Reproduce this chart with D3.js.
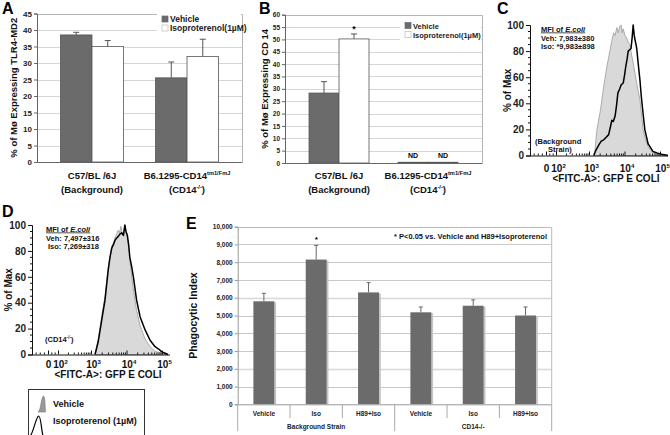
<!DOCTYPE html>
<html><head><meta charset="utf-8">
<script src="https://cdn.jsdelivr.net/npm/d3@7"></script>
<style>
body{margin:0;background:#fff}
svg{display:block;font-family:"Liberation Sans",Arial,sans-serif;font-weight:bold}
</style></head><body>
<svg id="c" width="670" height="435"></svg>
<script>
// ---------- DATA ----------
const abCats = ["background", "cd14ko"];
const seriesNames = ["Vehicle", "Isoproterenol(1µM)"];
const aVehicle = [38.5, 25.5];
const aVehicleErr = [0.8, 4.8];
const aIso = [35.0, 32.0];
const aIsoErr = [1.8, 5.2];
const aTicks = [0, 5, 10, 15, 20, 25, 30, 35, 40, 45];
const bVehicle = [28.3, 0.3];
const bVehicleErr = [4.6, 0];
const bIso = [50.2, 0.3];
const bIsoErr = [2.0, 0];
const bTicks = [0, 5, 10, 15, 20, 25, 30, 35, 40, 45, 50, 55, 60];
const bStars = ["*", ""];
const bNotDetected = ["ND", "ND"];
const catLabelsAB = [
  [[{t: "C57/BL /6J"}], [{t: "(Background)"}]],
  [[{t: "B6.1295-CD14"}, {t: "tm1/FmJ", sup: true}], [{t: "(CD14"}, {t: "-/-", sup: true}, {t: ")"}]]
];

// flow histograms: x in log10 units, y in % of max
const flowTickVals = [1, 2, 3, 4, 5];
const flowTickBase = ["0", "10", "10", "10", "10"];
const flowTickExp = ["", "2", "3", "4", "5"];
const flowYTicks = [0, 20, 40, 60, 80, 100];
const cVehX = [3.12, 3.15, 3.21, 3.31, 3.40, 3.49, 3.58, 3.63, 3.68, 3.72, 3.77, 3.81, 3.85, 3.89, 3.92, 3.95, 4.00, 4.05, 4.10, 4.14, 4.18, 4.23, 4.33, 4.42, 4.51, 4.58, 4.65, 4.75, 4.83, 5.00, 5.19, 5.22];
const cVehY = [0, 3, 20, 35, 53, 68, 81, 88, 94, 92, 98, 94, 99, 100, 94, 97, 92, 90, 86, 85, 78, 71, 55.5, 42.7, 19.6, 12, 6.8, 3, 1.7, 1, 0.5, 0];
const cIsoX = [3.12, 3.18, 3.26, 3.33, 3.40, 3.47, 3.54, 3.59, 3.63, 3.67, 3.72, 3.76, 3.80, 3.85, 3.89, 3.95, 3.99, 4.02, 4.06, 4.09, 4.13, 4.17, 4.20, 4.23, 4.26, 4.28, 4.31, 4.33, 4.37, 4.42, 4.46, 4.51, 4.56, 4.65, 4.72, 4.79, 4.90, 5.02, 5.22];
const cIsoY = [0, 4, 8, 11, 12, 14, 16, 22, 27, 26, 30, 38, 48, 51, 54, 55.5, 62, 68, 74, 80, 81, 82, 90, 100, 92, 89, 85, 82, 71, 58, 45, 32, 19.6, 9, 6, 3, 2, 1, 0];
const dVehX = [3.10, 3.19, 3.29, 3.38, 3.47, 3.52, 3.57, 3.62, 3.66, 3.71, 3.75, 3.79, 3.83, 3.87, 3.90, 3.94, 3.97, 4.00, 4.03, 4.10, 4.18, 4.27, 4.37, 4.51, 4.65, 4.79, 4.98, 5.16];
const dVehY = [0, 12, 30, 45, 67, 75, 84, 86, 90, 93, 96, 94, 99, 92, 95, 100, 96, 92, 86, 68, 50, 34, 22, 12, 6, 2.5, 1, 0];
const dIsoX = [3.10, 3.19, 3.29, 3.38, 3.47, 3.52, 3.57, 3.62, 3.66, 3.71, 3.75, 3.80, 3.85, 3.90, 3.94, 3.97, 4.01, 4.05, 4.08, 4.13, 4.18, 4.27, 4.37, 4.44, 4.51, 4.65, 4.79, 4.90, 4.98, 5.08, 5.16];
const dIsoY = [0, 10, 27, 42, 65, 75, 82, 85, 88, 90, 91, 93, 94, 92, 100, 95, 92, 84, 75, 68, 60, 42, 29, 24, 19, 11, 6, 4, 2, 1, 0];

// panel E
const eCats = ["Vehicle", "Iso", "H89+Iso", "Vehicle", "Iso", "H89+Iso"];
const eGroups = ["Background Strain", "CD14-/-"];
const eValues = [5800, 8150, 6300, 5180, 5550, 5000];
const eErrors = [450, 800, 550, 300, 330, 480];
const eStars = ["", "*", "", "", "", ""];
const eTicks = [0, 1000, 2000, 3000, 4000, 5000, 6000, 7000, 8000, 9000, 10000];

// ---------- DRAWING ----------
const svg = d3.select("#c");
const fmtE = d3.format(",");
const DARK = "#6b6b6b";

function styleAxis(a, fs, col) {
  a.attr("font-family", null).attr("font-size", null);
  a.select(".domain").attr("stroke", col || "#666");
  a.selectAll(".tick line").attr("stroke", col || "#666");
  a.selectAll(".tick text").attr("font-size", fs).attr("font-weight", "bold").attr("fill", "#222");
}

function richText(g, x, y, segs, fs, anchor) {
  const t = g.append("text").attr("x", x).attr("y", y).attr("font-size", fs).attr("text-anchor", anchor || "middle").attr("fill", "#111");
  let prevSup = false;
  segs.forEach(s => {
    const ts = t.append("tspan").text(s.t);
    if (s.sup) ts.attr("font-size", fs * 0.6).attr("dy", -fs * 0.4);
    else if (prevSup) ts.attr("dy", fs * 0.4);
    prevSup = !!s.sup;
  });
  return t;
}

function barPanel(p) {
  const g = svg.append("g");
  const x = d3.scaleBand().domain(abCats).range([p.left, p.right]).paddingInner(p.pi).paddingOuter(p.po);
  const s = d3.scaleBand().domain([0, 1]).range([0, x.bandwidth()]);
  const y = d3.scaleLinear().domain([0, p.ticks[p.ticks.length - 1]]).range([p.bottom, p.top]);
  g.append("g").selectAll("line").data(p.ticks.slice(1, -1)).join("line")
    .attr("x1", p.left).attr("x2", p.right)
    .attr("y1", d => Math.round(y(d)) + .5).attr("y2", d => Math.round(y(d)) + .5)
    .attr("stroke", "#d6d6d6");
  g.append("path")
    .attr("d", `M${p.left},${Math.round(p.top) + .5}H${p.right + .5}V${p.bottom}`)
    .attr("fill", "none").attr("stroke", "#b5b5b5");
  // legend background + legend
  g.append("rect").attr("x", p.leg[0] - 5).attr("y", p.leg[1] - 8).attr("width", p.right - p.leg[0] + 4).attr("height", 22).attr("fill", "#fff");
  const fills = [DARK, "#fff"];
  seriesNames.forEach((n, i) => {
    g.append("rect").attr("x", p.leg[0]).attr("y", p.leg[1] - 6 + i * 9).attr("width", 6).attr("height", 6)
      .attr("fill", fills[i]).attr("stroke", i ? "#bbb" : DARK).attr("stroke-width", 0.7);
    g.append("text").attr("x", p.leg[0] + 8).attr("y", p.leg[1] + i * 9).attr("font-size", p.legFs).attr("fill", "#222").text(n);
  });
  const series = [{v: p.veh, e: p.vehErr}, {v: p.iso, e: p.isoErr}];
  series.forEach((sr, si) => {
    const bg = g.append("g");
    bg.selectAll("rect").data(abCats).join("rect")
      .attr("x", c => x(c) + s(si)).attr("width", s.bandwidth())
      .attr("y", (c, i) => y(sr.v[i])).attr("height", (c, i) => p.bottom - y(sr.v[i]))
      .attr("fill", fills[si]).attr("stroke", "#555").attr("stroke-width", 0.8);
    const eb = g.append("g").attr("stroke", "#555").attr("stroke-width", 1);
    abCats.forEach((c, i) => {
      if (!sr.e[i]) return;
      const cx = x(c) + s(si) + s.bandwidth() / 2;
      eb.append("line").attr("x1", cx).attr("x2", cx).attr("y1", y(sr.v[i])).attr("y2", y(sr.v[i] + sr.e[i]));
      eb.append("line").attr("x1", cx - 3).attr("x2", cx + 3).attr("y1", y(sr.v[i] + sr.e[i])).attr("y2", y(sr.v[i] + sr.e[i]));
    });
    if (p.stars) abCats.forEach((c, i) => {
      if (si === 1 && p.stars[i]) g.append("text").attr("x", x(c) + s(si) + s.bandwidth() / 2).attr("y", y(sr.v[i] + sr.e[i]) - 2)
        .attr("text-anchor", "middle").attr("font-size", 9).text(p.stars[i]);
    });
    if (p.nd) abCats.forEach((c, i) => {
      if (i === 1) g.append("text").attr("x", x(c) + s(si) + s.bandwidth() / 2).attr("y", y(sr.v[i]) - 4)
        .attr("text-anchor", "middle").attr("font-size", 7).text(p.nd[si]);
    });
  });
  g.append("g").attr("transform", `translate(${p.left},0)`)
    .call(d3.axisLeft(y).tickValues(p.ticks).tickSize(3).tickPadding(2))
    .call(a => styleAxis(a, p.tickFs));
  g.append("line").attr("x1", p.left).attr("x2", p.right + .5).attr("y1", p.bottom + .5).attr("y2", p.bottom + .5).attr("stroke", "#666");
  abCats.forEach((c, i) => {
    const cx = x(c) + x.bandwidth() / 2;
    richText(g, cx, p.catY[0], catLabelsAB[i][0], p.catFs);
    richText(g, cx, p.catY[1], catLabelsAB[i][1], p.catFs);
  });
  g.append("text").attr("transform", `translate(${p.ylabX},${(p.top + p.bottom) / 2}) rotate(-90)`)
    .attr("text-anchor", "middle").attr("font-size", p.ylabFs).attr("fill", "#111").text(p.ylab);
  g.append("text").attr("x", p.letter[0]).attr("y", p.letter[1]).attr("font-size", 16).text(p.letter[2]);
}

barPanel({left: 37, right: 242, top: 13.5, bottom: 162, pi: 0.337, po: 0.247, ticks: aTicks,
  veh: aVehicle, vehErr: aVehicleErr, iso: aIso, isoErr: aIsoErr, leg: [162, 22], legFs: 8.5,
  tickFs: 8, catFs: 9.5, catY: [179, 193], ylab: "% of Mø Expressing TLR4-MD2", ylabX: 17, ylabFs: 9.5,
  letter: [2, 14, "A"]});
barPanel({left: 285, right: 482, top: 14.7, bottom: 163, pi: 0.326, po: 0.27, ticks: bTicks,
  veh: bVehicle, vehErr: bVehicleErr, iso: bIso, isoErr: bIsoErr, leg: [405, 28.5], legFs: 7.5,
  tickFs: 6.5, catFs: 9.5, catY: [179, 193], ylab: "% of Mø Expressing CD 14", ylabX: 268, ylabFs: 9.5,
  letter: [259, 14, "B"], stars: bStars, nd: bNotDetected});

// ---------- flow panels ----------
const flowDomain = [0, 1, 2, 3, 4, 5, 5.22];
const flowOffsets = [0, 16.5, 26.5, 59.5, 95, 130.5, 138];
function flowPanel(p) {
  const g = svg.append("g");
  const x = d3.scaleLinear().domain(flowDomain).range(flowOffsets.map(o => p.left + o));
  const y = d3.scaleLinear().domain([0, 100]).range([p.bottom, p.top]);
  const veh = d3.zip(p.vehX, p.vehY), iso = d3.zip(p.isoX, p.isoY);
  g.append("path").datum(veh)
    .attr("d", d3.area().x(d => x(d[0])).y0(p.bottom).y1(d => y(d[1])))
    .attr("fill", "#d9d9d9").attr("stroke", "#9a9a9a").attr("stroke-width", 0.8);
  g.append("path").datum(iso)
    .attr("d", d3.line().x(d => x(d[0])).y(d => y(d[1])))
    .attr("fill", "none").attr("stroke", "#000").attr("stroke-width", 1.5).attr("stroke-linejoin", "round");
  g.append("g").attr("transform", `translate(${p.left},0)`)
    .call(d3.axisLeft(y).tickValues(flowYTicks).tickSize(4).tickPadding(2).tickFormat(d3.format("d")))
    .call(a => styleAxis(a, 10, "#111"));
  g.append("g").selectAll("line").data(d3.range(0, 101, 5).filter(v => v % 20)).join("line")
    .attr("x1", p.left - 2).attr("x2", p.left).attr("y1", d => y(d)).attr("y2", d => y(d)).attr("stroke", "#111");
  g.append("line").attr("x1", p.left).attr("x2", p.left + 138).attr("y1", p.bottom + .5).attr("y2", p.bottom + .5).attr("stroke", "#111");
  const minors = [0.25, 0.5, 0.75, 1.33, 1.67];
  [2, 3, 4].forEach(d => d3.range(2, 10).forEach(k => minors.push(d + Math.log10(k))));
  g.append("g").selectAll("line").data(minors).join("line")
    .attr("x1", d => x(d)).attr("x2", d => x(d)).attr("y1", p.bottom).attr("y2", p.bottom - 2).attr("stroke", "#111");
  g.append("g").selectAll("line").data(flowTickVals).join("line")
    .attr("x1", d => x(d)).attr("x2", d => x(d)).attr("y1", p.bottom).attr("y2", p.bottom - 4).attr("stroke", "#111");
  flowTickVals.forEach((v, i) => {
    richText(g, x(v) + (i ? 2 : 0), p.xlabY, [{t: flowTickBase[i]}].concat(flowTickExp[i] ? [{t: flowTickExp[i], sup: true}] : []), 10);
  });
  g.append("text").attr("x", p.left + 76).attr("y", p.xlabY + 10).attr("text-anchor", "middle").attr("font-size", 10).attr("fill", "#111")
    .text("<FITC-A>: GFP E COLI");
  g.append("text").attr("transform", `translate(${p.ylabX},${(p.top + p.bottom) / 2}) rotate(-90)`)
    .attr("text-anchor", "middle").attr("font-size", 10).attr("fill", "#111").text("% of Max");
  const t0 = g.append("text").attr("x", p.mfi[0]).attr("y", p.mfi[1]).attr("font-size", 7.5).attr("fill", "#111").attr("text-decoration", "underline");
  t0.append("tspan").text("MFI of ");
  t0.append("tspan").attr("font-style", "italic").text("E.coli");
  p.mfiLines.forEach((l, i) => g.append("text").attr("x", p.mfi[0] + (l.indent || 0)).attr("y", p.mfi[1] + 9 + i * 8.5)
    .attr("font-size", 7.5).attr("fill", "#111").text(l.t));
  p.note.forEach(n => richText(g, n.x, n.y, n.segs, 7.5, "start"));
  g.append("text").attr("x", p.letter[0]).attr("y", p.letter[1]).attr("font-size", 16).text(p.letter[2]);
}

flowPanel({left: 530, top: 25, bottom: 155.5, vehX: cVehX, vehY: cVehY, isoX: cIsoX, isoY: cIsoY,
  xlabY: 171.5, ylabX: 511, mfi: [541, 31.5],
  mfiLines: [{t: "Veh: 7,983±380"}, {t: "Iso: *9,983±898"}],
  note: [{x: 535, y: 143.5, segs: [{t: "(Background"}]}, {x: 548, y: 152, segs: [{t: "Strain)"}]}],
  letter: [497, 14, "C"]});
flowPanel({left: 32, top: 225, bottom: 354.5, vehX: dVehX, vehY: dVehY, isoX: dIsoX, isoY: dIsoY,
  xlabY: 368, ylabX: 12, mfi: [46, 231.5],
  mfiLines: [{t: "Veh: 7,497±316"}, {t: "Iso: 7,269±318", indent: 2}],
  note: [{x: 45, y: 342, segs: [{t: "(CD14"}, {t: "-/-", sup: true}, {t: ")"}]}],
  letter: [2, 217, "D"]});

// D legend
(function () {
  const g = svg.append("g");
  g.append("rect").attr("x", 28.5).attr("y", 389.5).attr("width", 116).attr("height", 60).attr("fill", "#fff").attr("stroke", "#333");
  g.append("path").attr("d", "M38,412 C41,411 41,397 43.5,396 C45,396 45,404 45.5,412 Z").attr("fill", "#999").attr("stroke", "#777").attr("stroke-width", 0.6);
  g.append("path").attr("d", "M30,436 C33,434 36,417 38.5,416 C41,416 41,428 43,436").attr("fill", "none").attr("stroke", "#000").attr("stroke-width", 1.2);
  g.append("text").attr("x", 53).attr("y", 407).attr("font-size", 9).attr("fill", "#111").text("Vehicle");
  g.append("text").attr("x", 53).attr("y", 424).attr("font-size", 9).attr("fill", "#111").text("Isoproterenol (1µM)");
})();

// ---------- panel E ----------
(function () {
  const g = svg.append("g");
  const L = 237.7, R = 551.7, T = 226.7, B = 404.3;
  const x = d3.scaleBand().domain(d3.range(eCats.length)).range([L, R]);
  const y = d3.scaleLinear().domain([0, 10000]).range([B, T]);
  const bw = x.bandwidth() * 0.4;
  g.append("g").selectAll("line").data(eTicks.slice(1, -1)).join("line")
    .attr("x1", L).attr("x2", R).attr("y1", d => Math.round(y(d)) + .5).attr("y2", d => Math.round(y(d)) + .5)
    .attr("stroke", d => (d === 2000 || d === 6000) ? "#d8d8d8" : "#c9c9c9").attr("stroke-width", d => (d === 2000 || d === 6000) ? 1.6 : 1);
  g.append("path").attr("d", `M${L},${Math.round(T) + .5}H${R}V${B}`).attr("fill", "none").attr("stroke", "#bbb");
  const bx = i => x(i) + (x.bandwidth() - bw) / 2;
  g.append("g").selectAll("rect").data(eValues).join("rect")
    .attr("x", (d, i) => bx(i) + bw).attr("width", 1.8).attr("y", d => y(d) + 1).attr("height", d => B - y(d) - 1).attr("fill", "#c4c4c4");
  g.append("g").selectAll("rect").data(eValues).join("rect")
    .attr("x", (d, i) => bx(i)).attr("width", bw).attr("y", d => y(d)).attr("height", d => B - y(d)).attr("fill", DARK);
  const eb = g.append("g").attr("stroke", "#666").attr("stroke-width", 1);
  eValues.forEach((v, i) => {
    const cx = bx(i) + bw / 2;
    eb.append("line").attr("x1", cx).attr("x2", cx).attr("y1", y(v)).attr("y2", y(v + eErrors[i]));
    eb.append("line").attr("x1", cx - 2).attr("x2", cx + 2).attr("y1", y(v + eErrors[i])).attr("y2", y(v + eErrors[i]));
    if (eStars[i]) g.append("text").attr("x", cx).attr("y", y(v + eErrors[i]) - 3).attr("text-anchor", "middle").attr("font-size", 8).text(eStars[i]);
  });
  g.append("g").attr("transform", `translate(${L},0)`)
    .call(d3.axisLeft(y).tickValues(eTicks).tickSize(3).tickPadding(2).tickFormat(fmtE))
    .call(a => styleAxis(a, 6.5, "#999"));
  g.append("line").attr("x1", L).attr("x2", R).attr("y1", B + .5).attr("y2", B + .5).attr("stroke", "#999");
  const seps = d3.range(eCats.length + 1).map(i => i < eCats.length ? x(i) : R);
  seps.forEach((sx, i) => {
    const long = i % 3 === 0;
    g.append("line").attr("x1", sx).attr("x2", sx).attr("y1", B).attr("y2", long ? 431 : 418).attr("stroke", "#aaa");
  });
  eCats.forEach((c, i) => g.append("text").attr("x", x(i) + x.bandwidth() / 2).attr("y", 416).attr("text-anchor", "middle")
    .attr("font-size", 6.5).attr("fill", "#222").text(c));
  eGroups.forEach((gname, j) => g.append("text").attr("x", (x(j * 3) + (j ? R : x(3))) / 2).attr("y", 429)
    .attr("text-anchor", "middle").attr("font-size", 6.5).attr("fill", "#222").text(gname));
  g.append("text").attr("x", 547).attr("y", 238.5).attr("text-anchor", "end").attr("font-size", 7.5).attr("fill", "#111")
    .text("* P<0.05 vs. Vehicle and H89+Isoproterenol");
  g.append("text").attr("transform", `translate(197,${(T + B) / 2}) rotate(-90)`).attr("text-anchor", "middle")
    .attr("font-size", 10.5).attr("fill", "#111").text("Phagocytic Index");
  g.append("text").attr("x", 186).attr("y", 229).attr("font-size", 16).text("E");
})();
</script>
</body></html>
